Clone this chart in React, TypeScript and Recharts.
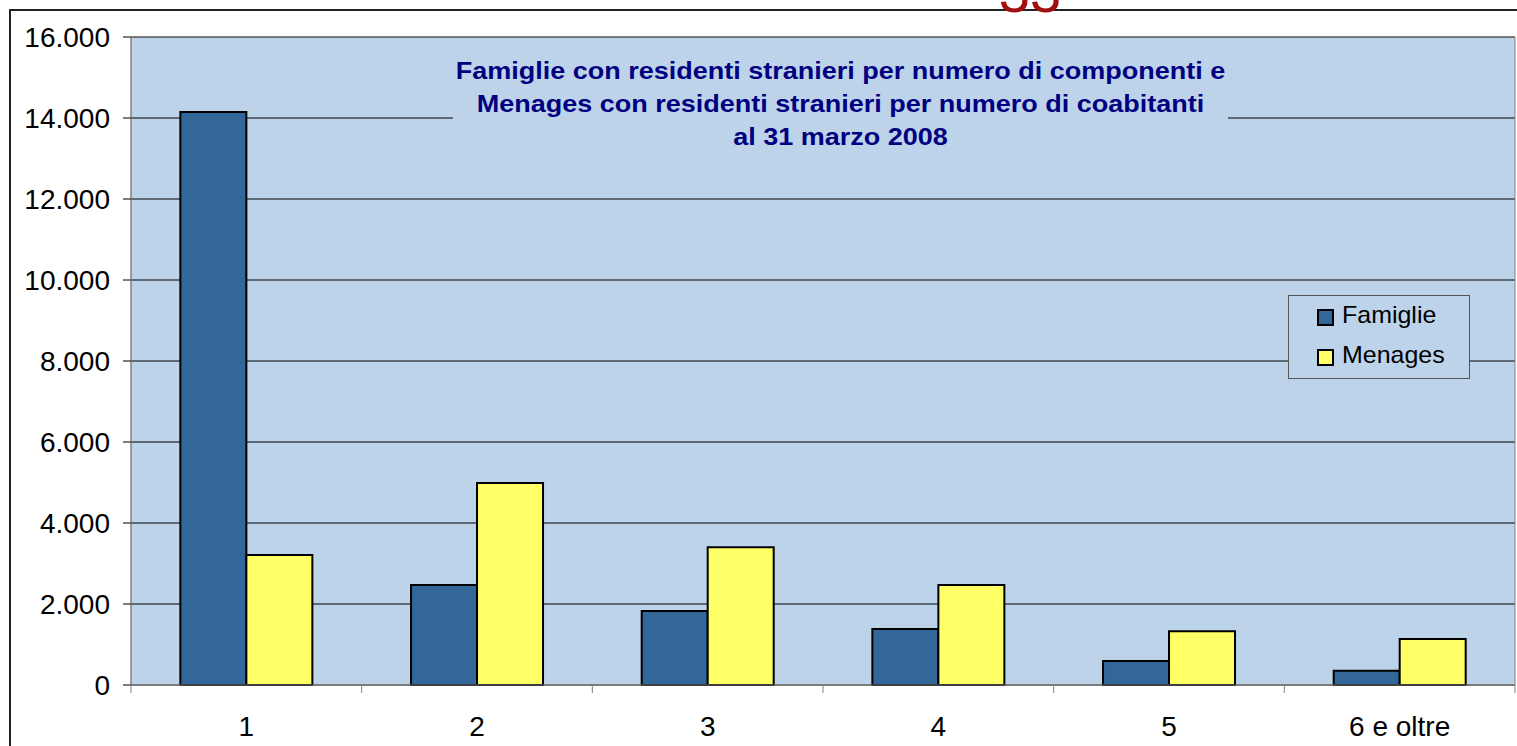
import { BarChart, Bar, XAxis, YAxis, CartesianGrid, Legend, ReferenceArea } from "recharts"

const categories = ["1", "2", "3", "4", "5", "6 e oltre"]
const famiglie = [14150, 2470, 1830, 1380, 590, 350]
const menages = [3210, 4990, 3400, 2470, 1330, 1135]
const yTicks = [0, 2000, 4000, 6000, 8000, 10000, 12000, 14000, 16000]
const titleLines = [
  "Famiglie con residenti stranieri per numero di componenti e",
  "Menages con residenti stranieri per numero di coabitanti",
  "al 31 marzo 2008",
]
const series = [
  { key: "famiglie", name: "Famiglie", color: "#336699" },
  { key: "menages", name: "Menages", color: "#FFFF66" },
]

const data = categories.map((name, i) => ({ name, famiglie: famiglie[i], menages: menages[i] }))

const FONT = "'Liberation Sans', Arial, sans-serif"
const PLOT_BG = "#BDD3EA"

// thousands with a dot, italian style
const fmt = (v: number) => String(v).replace(/\B(?=(\d{3})+(?!\d))/g, ".")

function XTick(props: any) {
  const { x, y, payload, index } = props
  const half = payload.offset || 0
  return (
    <g>
      <line x1={x - half} x2={x - half} y1={y} y2={y + 8} stroke="#808080" />
      {index === categories.length - 1 && (
        <line x1={x + half} x2={x + half} y1={y} y2={y + 8} stroke="#808080" />
      )}
      <text x={x} y={y + 51} textAnchor="middle" fontSize={28} fill="#000" fontFamily={FONT}>
        {payload.value}
      </text>
    </g>
  )
}

function LegendBox() {
  return (
    <div
      style={{
        position: "relative",
        width: 180,
        height: 82,
        background: PLOT_BG,
        border: "1px solid #555",
        fontFamily: FONT,
        fontSize: 24,
        color: "#000",
      }}
    >
      {series.map((s, i) => (
        <div
          key={s.key}
          style={{ position: "absolute", left: 28, top: 4 + i * 40, height: 30, display: "flex", alignItems: "center" }}
        >
          <span
            style={{
              width: 13,
              height: 13,
              background: s.color,
              border: "2px solid #000",
              marginRight: 8,
              marginTop: 4,
              display: "inline-block",
            }}
          />
          <span style={{ display: "inline-block", transform: "scaleX(1.04)", transformOrigin: "left center" }}>
            {s.name}
          </span>
        </div>
      ))}
    </div>
  )
}

export default function App() {
  return (
    <div style={{ position: "absolute", left: 0, top: 0, width: 1517, height: 746, overflow: "hidden", background: "#fff" }}>
      <div style={{ position: "absolute", left: 9, top: 9, width: 1700, height: 900, border: "2px solid #222" }} />
      <svg style={{ position: "absolute", left: 0, top: 0 }} width={1517} height={746}>
        <text x={1030} y={12} textAnchor="middle" fontSize={56} fill="#A01010" fontFamily={FONT}>
          33
        </text>
      </svg>
      <div style={{ position: "absolute", left: 0, top: 0 }}>
        <BarChart
          width={1517}
          height={746}
          data={data}
          margin={{ top: 37, right: 2, bottom: 31, left: 0 }}
          barCategoryGap="21.4%"
          barGap={0}
        >
          <CartesianGrid vertical={false} stroke="#000" fill={PLOT_BG} fillOpacity={1} />
          <ReferenceArea y1={0} y2={16000} fill="none" stroke="#808080" strokeWidth={1} ifOverflow="visible" />
          <XAxis
            dataKey="name"
            height={30}
            tickLine={false}
            tickSize={0}
            tickMargin={0}
            axisLine={{ stroke: "#808080" }}
            tick={<XTick />}
            interval={0}
          />
          <YAxis
            width={131}
            domain={[0, 16000]}
            ticks={yTicks}
            tickFormatter={fmt}
            tickSize={8}
            tickMargin={13}
            axisLine={{ stroke: "#808080" }}
            tickLine={{ stroke: "#000" }}
            tick={{ fontSize: 28, fill: "#000", fontFamily: FONT }}
            interval={0}
          />
          <Legend
            layout="vertical"
            align="center"
            verticalAlign="middle"
            wrapperStyle={{ position: "absolute", left: 1288, top: 295, width: 182, height: 84 }}
            content={() => <LegendBox />}
          />
          {series.map((s) => (
            <Bar
              key={s.key}
              dataKey={s.key}
              name={s.name}
              fill={s.color}
              stroke="#000"
              strokeWidth={2}
              isAnimationActive={false}
            />
          ))}
        </BarChart>
      </div>
      <div
        style={{
          position: "absolute",
          left: 453,
          top: 50,
          width: 775,
          height: 104,
          paddingTop: 4,
          boxSizing: "border-box",
          background: PLOT_BG,
          textAlign: "center",
          fontFamily: FONT,
          fontWeight: "bold",
          fontSize: 24,
          color: "#000080",
          lineHeight: "33px",
        }}
      >
        {titleLines.map((t) => (
          <div key={t} style={{ transform: "scaleX(1.125)", transformOrigin: "center" }}>
            {t}
          </div>
        ))}
      </div>
    </div>
  )
}
